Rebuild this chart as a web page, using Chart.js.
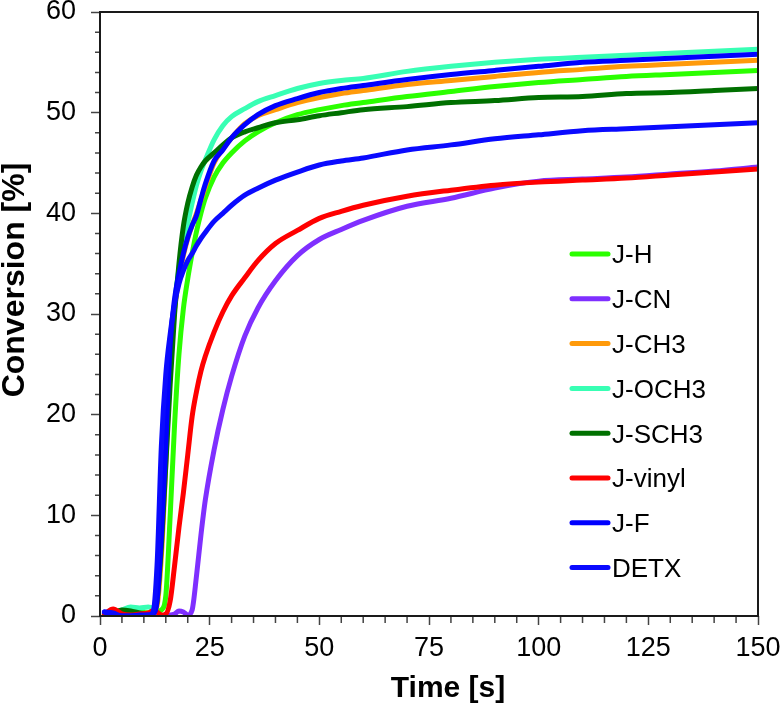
<!DOCTYPE html>
<html>
<head>
<meta charset="utf-8">
<script src="https://cdn.jsdelivr.net/npm/chart.js@4.4.0/dist/chart.umd.min.js"></script>
<style>
    html, body { margin: 0; padding: 0; background: #ffffff; }
</style>
</head>
<body>
<canvas id="conversionChart" width="783" height="705"></canvas>
<script>
// Photopolymerisation conversion vs time

// Time axis [s], shared by every series
const times = [1, 3, 5, 7, 9, 11, 12, 13, 14, 15, 16, 17, 18, 19, 20, 21, 22, 23, 24,
    26, 28, 30, 33, 36, 40, 45, 50, 55, 60, 70, 80, 90, 100, 110, 120, 130, 140, 150];

// Conversion [%] for each photoinitiator
const jH = [0.2, 0.1, 0.3, 0.2, 0.4, 0.3, 0.3, 0.4, 0.6, 2, 10, 19, 26, 30.5, 33.5, 36, 38.2, 40, 41.5,
    43.6, 45, 46, 47.2, 48.1, 49.0, 49.8, 50.3, 50.7, 51.0, 51.6, 52.1, 52.6, 53.0, 53.3, 53.6, 53.8, 54.0, 54.2];
const jCN = [0, 0, 0, 0, 0, 0, 0, 0, 0, 0.1, 0.1, 0.2, 0.5, 0.4, 0.1, 0.6, 4, 8, 11.5,
    16.5, 20.5, 23.8, 27.8, 30.6, 33.3, 35.8, 37.4, 38.4, 39.3, 40.7, 41.5, 42.5, 43.2, 43.4, 43.6, 43.9, 44.2, 44.6];
const jCH3 = [0.1, 0.2, 0.2, 0.3, 0.2, 0.3, 0.4, 1, 6, 15, 25, 30.5, 33.5, 35.8, 37.5, 38.8, 40, 41.3, 42.6,
    45, 46.4, 47.5, 48.9, 49.7, 50.3, 51.0, 51.5, 51.9, 52.2, 52.8, 53.2, 53.6, 54.0, 54.3, 54.6, 54.8, 55.0, 55.2];
const jOCH3 = [0.2, 0.3, 0.6, 0.9, 0.8, 0.9, 0.8, 2, 9, 18, 26, 31, 34.5, 37.2, 39, 41, 42.8, 44.2, 45.3,
    47.3, 48.7, 49.6, 50.4, 51.1, 51.7, 52.4, 52.9, 53.2, 53.4, 54.1, 54.6, 55.0, 55.3, 55.5, 55.7, 55.9, 56.1, 56.3];
const jSCH3 = [0.1, 0.3, 0.6, 0.5, 0.3, 0.2, 0.3, 1.5, 7, 15, 23, 30, 35, 38.7, 41, 42.6, 43.8, 44.6, 45.2,
    46.0, 46.8, 47.5, 48.1, 48.5, 49.0, 49.3, 49.7, 50.0, 50.3, 50.6, 51.0, 51.2, 51.5, 51.6, 51.9, 52.0, 52.2, 52.4];
const jVinyl = [0.2, 0.7, 0.2, 0.1, 0.2, 0.3, 0.5, 0.4, 0.1, 0.2, 1.5, 5, 8.8, 12.2, 16, 19.8, 22.3, 24.3, 25.8,
    28.2, 30.2, 31.8, 33.6, 35.3, 37.0, 38.3, 39.5, 40.2, 40.8, 41.7, 42.3, 42.8, 43.1, 43.3, 43.5, 43.8, 44.1, 44.4];
const jF = [0.4, 0.2, 0, 0, 0.1, 0.1, 0.2, 1.5, 8, 17, 27, 31.5, 34, 36, 37.6, 38.8, 39.8, 41.4, 42.9,
    45.2, 46.3, 47.5, 48.8, 49.8, 50.7, 51.4, 52.0, 52.4, 52.7, 53.3, 53.8, 54.2, 54.6, 55.0, 55.2, 55.4, 55.6, 55.8];
const detx = [0.4, 0.3, 0, 0, 0, 0.1, 0.3, 5, 17, 24, 28, 31, 33, 34.3, 35.3, 36, 36.8, 37.5, 38.1,
    39.2, 40, 40.8, 41.8, 42.5, 43.3, 44.1, 44.8, 45.2, 45.5, 46.3, 46.8, 47.4, 47.8, 48.2, 48.4, 48.6, 48.8, 49.0];

const seriesNames = ['J-H', 'J-CN', 'J-CH3', 'J-OCH3', 'J-SCH3', 'J-vinyl', 'J-F', 'DETX'];
const seriesValues = [jH, jCN, jCH3, jOCH3, jSCH3, jVinyl, jF, detx];
const seriesColors = ['#2bff00', '#7f2fff', '#ff9a0a', '#38ffb4', '#007000', '#ff0000', '#0000ff', '#0a0aff'];

// Tick labels
const xTicks = [0, 25, 50, 75, 100, 125, 150];
const yTicks = [0, 10, 20, 30, 40, 50, 60];

const FONT = '"Liberation Sans", Arial, sans-serif';

// Frame round the plot, minor tick marks and the two axis titles
const frameAndTicks = {
    id: 'frameAndTicks',
    afterDatasetsDraw(chart) {
        const { ctx, chartArea: a, scales: { x, y } } = chart;
        ctx.save();
        ctx.strokeStyle = '#444';
        ctx.lineWidth = 1.5;
        ctx.beginPath();
        for (let v = 0; v <= 60; v += 2) {
            if (v % 10 === 0) continue;
            const py = y.getPixelForValue(v);
            ctx.moveTo(a.left - 5, py);
            ctx.lineTo(a.left, py);
        }
        for (let t = 0; t <= 150; t += 5) {
            if (t % 25 === 0) continue;
            const px = x.getPixelForValue(t);
            ctx.moveTo(px, a.bottom);
            ctx.lineTo(px, a.bottom + 7);
        }
        ctx.stroke();
        ctx.strokeStyle = '#1a1a1a';
        ctx.lineWidth = 2;
        ctx.strokeRect(a.left, a.top, a.right - a.left, a.bottom - a.top);

        // axis titles
        ctx.fillStyle = '#000';
        ctx.textAlign = 'center';
        ctx.textBaseline = 'alphabetic';
        ctx.font = 'bold 30px ' + FONT;
        ctx.fillText('Time [s]', a.left + 348, 697);
        ctx.translate(24, a.top + 268);
        ctx.rotate(-Math.PI / 2);
        ctx.font = 'bold 32px ' + FONT;
        ctx.fillText('Conversion [%]', 0, 0);
        ctx.restore();
    }
};

// Legend drawn inside the plot area, lower right
const insideLegend = {
    id: 'insideLegend',
    afterDraw(chart) {
        const { ctx, chartArea: a } = chart;
        const x0 = a.left + 472;
        ctx.save();
        ctx.font = '26px ' + FONT;
        ctx.textBaseline = 'alphabetic';
        ctx.fillStyle = '#000';
        chart.data.datasets.forEach((ds, i) => {
            const cy = a.top + 242 + i * 44.8;
            ctx.strokeStyle = ds.borderColor;
            ctx.lineWidth = 5;
            ctx.lineCap = 'round';
            ctx.beginPath();
            ctx.moveTo(x0, cy);
            ctx.lineTo(x0 + 36, cy);
            ctx.stroke();
            ctx.fillText(ds.label, x0 + 40, cy + 9.3);
        });
        ctx.restore();
    }
};

const datasets = seriesNames.map((name, i) => ({
    label: name,
    data: times.map((t, k) => ({ x: t, y: seriesValues[i][k] })),
    borderColor: seriesColors[i],
    backgroundColor: seriesColors[i],
    order: seriesNames.length - 1 - i
}));

var ctx = document.getElementById('conversionChart').getContext('2d');
var conversionChart = new Chart(ctx, {
    type: 'line',
    data: { datasets: datasets },
    options: {
        responsive: false,
        animation: false,
        devicePixelRatio: 1,
        layout: { padding: { top: 12, right: 25, left: 0, bottom: 0 } },
        elements: {
            point: { radius: 0 },
            line: { borderWidth: 5, cubicInterpolationMode: 'monotone', borderCapStyle: 'round', borderJoinStyle: 'round' }
        },
        plugins: {
            legend: { display: false },
            tooltip: { enabled: false }
        },
        scales: {
            x: {
                type: 'linear',
                min: 0,
                max: 150,
                afterFit: s => { s.height = 89; s.paddingLeft = 0; s.paddingRight = 0; },
                afterBuildTicks: s => { s.ticks = xTicks.map(v => ({ value: v })); },
                border: { display: false },
                grid: { drawOnChartArea: false, tickLength: 9, tickColor: '#444', tickWidth: 1.5 },
                ticks: { color: '#000', font: { family: FONT, size: 27 }, padding: 7, maxRotation: 0 }
            },
            y: {
                min: 0,
                max: 60,
                afterFit: s => { s.width = 100; s.paddingTop = 0; s.paddingBottom = 0; },
                afterBuildTicks: s => { s.ticks = yTicks.map(v => ({ value: v })); },
                border: { display: false },
                grid: { drawOnChartArea: false, tickLength: 9, tickColor: '#444', tickWidth: 1.5 },
                ticks: { color: '#000', font: { family: FONT, size: 27 }, padding: 15 }
            }
        }
    },
    plugins: [frameAndTicks, insideLegend]
});
</script>
</body>
</html>
